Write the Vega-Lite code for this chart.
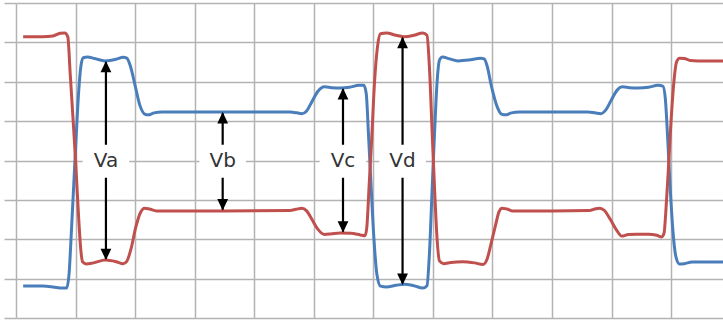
{
  "$schema": "https://vega.github.io/schema/vega-lite/v6.json",
  "width": 707,
  "height": 315,
  "autosize": {"type": "none"},
  "padding": {"left": 16, "top": 3, "right": 0, "bottom": 2},
  "background": "white",
  "config": {
    "view": {"stroke": null},
    "axis": {"grid": true, "gridColor": "#b3b3b3", "gridWidth": 1.5, "labels": false, "domain": false, "title": null},
    "axisX": {"ticks": false},
    "axisY": {"ticks": true, "tickSize": 12, "tickColor": "#b3b3b3", "tickWidth": 1.5}
  },
  "datasets": {
    "waves": [
      {"s": "red", "t": 0.12, "v": 3.14}, {"s": "red", "t": 0.45, "v": 3.14}, {"s": "red", "t": 0.62, "v": 3.16}, {"s": "red", "t": 0.74, "v": 3.23}, {"s": "red", "t": 0.82, "v": 3.24}, {"s": "red", "t": 0.87, "v": 3.14}, {"s": "red", "t": 0.91, "v": 2.2}, {"s": "red", "t": 0.96, "v": 1.0}, {"s": "red", "t": 1.0, "v": 0.0}, {"s": "red", "t": 1.05, "v": -1.4}, {"s": "red", "t": 1.09, "v": -2.3}, {"s": "red", "t": 1.12, "v": -2.58}, {"s": "red", "t": 1.18, "v": -2.63}, {"s": "red", "t": 1.3, "v": -2.6}, {"s": "red", "t": 1.5, "v": -2.53}, {"s": "red", "t": 1.68, "v": -2.57}, {"s": "red", "t": 1.8, "v": -2.62}, {"s": "red", "t": 1.86, "v": -2.56}, {"s": "red", "t": 1.93, "v": -2.25}, {"s": "red", "t": 2.01, "v": -1.7}, {"s": "red", "t": 2.09, "v": -1.32}, {"s": "red", "t": 2.16, "v": -1.21}, {"s": "red", "t": 2.24, "v": -1.23}, {"s": "red", "t": 2.36, "v": -1.28}, {"s": "red", "t": 3.5, "v": -1.28}, {"s": "red", "t": 4.6, "v": -1.27}, {"s": "red", "t": 4.7, "v": -1.24}, {"s": "red", "t": 4.8, "v": -1.21}, {"s": "red", "t": 4.88, "v": -1.28}, {"s": "red", "t": 4.97, "v": -1.5}, {"s": "red", "t": 5.07, "v": -1.75}, {"s": "red", "t": 5.18, "v": -1.88}, {"s": "red", "t": 5.3, "v": -1.86}, {"s": "red", "t": 5.44, "v": -1.84}, {"s": "red", "t": 5.62, "v": -1.85}, {"s": "red", "t": 5.78, "v": -1.89}, {"s": "red", "t": 5.86, "v": -1.91}, {"s": "red", "t": 5.89, "v": -1.7}, {"s": "red", "t": 5.93, "v": -0.6}, {"s": "red", "t": 5.97, "v": 0.5}, {"s": "red", "t": 6.02, "v": 2.0}, {"s": "red", "t": 6.07, "v": 2.9}, {"s": "red", "t": 6.12, "v": 3.22}, {"s": "red", "t": 6.22, "v": 3.24}, {"s": "red", "t": 6.38, "v": 3.18}, {"s": "red", "t": 6.53, "v": 3.14}, {"s": "red", "t": 6.68, "v": 3.18}, {"s": "red", "t": 6.83, "v": 3.24}, {"s": "red", "t": 6.9, "v": 3.18}, {"s": "red", "t": 6.94, "v": 2.4}, {"s": "red", "t": 6.99, "v": 0.6}, {"s": "red", "t": 7.03, "v": -0.8}, {"s": "red", "t": 7.07, "v": -2.0}, {"s": "red", "t": 7.11, "v": -2.55}, {"s": "red", "t": 7.18, "v": -2.62}, {"s": "red", "t": 7.3, "v": -2.59}, {"s": "red", "t": 7.5, "v": -2.57}, {"s": "red", "t": 7.7, "v": -2.6}, {"s": "red", "t": 7.84, "v": -2.64}, {"s": "red", "t": 7.91, "v": -2.5}, {"s": "red", "t": 7.97, "v": -2.15}, {"s": "red", "t": 8.05, "v": -1.65}, {"s": "red", "t": 8.11, "v": -1.3}, {"s": "red", "t": 8.16, "v": -1.21}, {"s": "red", "t": 8.24, "v": -1.23}, {"s": "red", "t": 8.34, "v": -1.28}, {"s": "red", "t": 9.0, "v": -1.28}, {"s": "red", "t": 9.63, "v": -1.27}, {"s": "red", "t": 9.72, "v": -1.23}, {"s": "red", "t": 9.8, "v": -1.21}, {"s": "red", "t": 9.88, "v": -1.27}, {"s": "red", "t": 9.98, "v": -1.5}, {"s": "red", "t": 10.08, "v": -1.76}, {"s": "red", "t": 10.17, "v": -1.92}, {"s": "red", "t": 10.28, "v": -1.88}, {"s": "red", "t": 10.42, "v": -1.87}, {"s": "red", "t": 10.62, "v": -1.87}, {"s": "red", "t": 10.76, "v": -1.9}, {"s": "red", "t": 10.84, "v": -1.94}, {"s": "red", "t": 10.88, "v": -1.85}, {"s": "red", "t": 10.91, "v": -1.3}, {"s": "red", "t": 10.95, "v": -0.3}, {"s": "red", "t": 10.99, "v": 0.8}, {"s": "red", "t": 11.04, "v": 1.9}, {"s": "red", "t": 11.09, "v": 2.5}, {"s": "red", "t": 11.14, "v": 2.6}, {"s": "red", "t": 11.22, "v": 2.59}, {"s": "red", "t": 11.32, "v": 2.54}, {"s": "red", "t": 11.45, "v": 2.53}, {"s": "red", "t": 11.87, "v": 2.53},
      {"s": "blue", "t": 0.12, "v": -3.19}, {"s": "blue", "t": 0.45, "v": -3.19}, {"s": "blue", "t": 0.62, "v": -3.21}, {"s": "blue", "t": 0.78, "v": -3.24}, {"s": "blue", "t": 0.85, "v": -3.24}, {"s": "blue", "t": 0.89, "v": -2.9}, {"s": "blue", "t": 0.93, "v": -1.8}, {"s": "blue", "t": 0.97, "v": -0.6}, {"s": "blue", "t": 1.01, "v": 0.6}, {"s": "blue", "t": 1.05, "v": 1.7}, {"s": "blue", "t": 1.09, "v": 2.4}, {"s": "blue", "t": 1.13, "v": 2.61}, {"s": "blue", "t": 1.2, "v": 2.63}, {"s": "blue", "t": 1.32, "v": 2.59}, {"s": "blue", "t": 1.5, "v": 2.53}, {"s": "blue", "t": 1.68, "v": 2.57}, {"s": "blue", "t": 1.8, "v": 2.62}, {"s": "blue", "t": 1.86, "v": 2.6}, {"s": "blue", "t": 1.92, "v": 2.4}, {"s": "blue", "t": 2.0, "v": 1.9}, {"s": "blue", "t": 2.08, "v": 1.4}, {"s": "blue", "t": 2.16, "v": 1.18}, {"s": "blue", "t": 2.22, "v": 1.16}, {"s": "blue", "t": 2.32, "v": 1.21}, {"s": "blue", "t": 2.45, "v": 1.23}, {"s": "blue", "t": 3.5, "v": 1.23}, {"s": "blue", "t": 4.6, "v": 1.23}, {"s": "blue", "t": 4.72, "v": 1.21}, {"s": "blue", "t": 4.8, "v": 1.19}, {"s": "blue", "t": 4.88, "v": 1.26}, {"s": "blue", "t": 4.97, "v": 1.5}, {"s": "blue", "t": 5.07, "v": 1.76}, {"s": "blue", "t": 5.18, "v": 1.87}, {"s": "blue", "t": 5.3, "v": 1.85}, {"s": "blue", "t": 5.44, "v": 1.84}, {"s": "blue", "t": 5.6, "v": 1.86}, {"s": "blue", "t": 5.76, "v": 1.91}, {"s": "blue", "t": 5.84, "v": 1.91}, {"s": "blue", "t": 5.88, "v": 1.7}, {"s": "blue", "t": 5.92, "v": 0.6}, {"s": "blue", "t": 5.96, "v": -0.6}, {"s": "blue", "t": 6.01, "v": -2.0}, {"s": "blue", "t": 6.06, "v": -2.9}, {"s": "blue", "t": 6.12, "v": -3.19}, {"s": "blue", "t": 6.22, "v": -3.21}, {"s": "blue", "t": 6.38, "v": -3.17}, {"s": "blue", "t": 6.53, "v": -3.14}, {"s": "blue", "t": 6.68, "v": -3.18}, {"s": "blue", "t": 6.83, "v": -3.24}, {"s": "blue", "t": 6.9, "v": -3.18}, {"s": "blue", "t": 6.94, "v": -2.4}, {"s": "blue", "t": 6.99, "v": -0.6}, {"s": "blue", "t": 7.03, "v": 0.8}, {"s": "blue", "t": 7.07, "v": 2.0}, {"s": "blue", "t": 7.11, "v": 2.55}, {"s": "blue", "t": 7.16, "v": 2.63}, {"s": "blue", "t": 7.28, "v": 2.58}, {"s": "blue", "t": 7.42, "v": 2.53}, {"s": "blue", "t": 7.6, "v": 2.55}, {"s": "blue", "t": 7.8, "v": 2.6}, {"s": "blue", "t": 7.86, "v": 2.58}, {"s": "blue", "t": 7.91, "v": 2.4}, {"s": "blue", "t": 7.98, "v": 1.9}, {"s": "blue", "t": 8.07, "v": 1.4}, {"s": "blue", "t": 8.15, "v": 1.18}, {"s": "blue", "t": 8.22, "v": 1.16}, {"s": "blue", "t": 8.32, "v": 1.21}, {"s": "blue", "t": 8.45, "v": 1.23}, {"s": "blue", "t": 9.0, "v": 1.23}, {"s": "blue", "t": 9.6, "v": 1.23}, {"s": "blue", "t": 9.72, "v": 1.21}, {"s": "blue", "t": 9.82, "v": 1.19}, {"s": "blue", "t": 9.9, "v": 1.28}, {"s": "blue", "t": 10.0, "v": 1.55}, {"s": "blue", "t": 10.1, "v": 1.8}, {"s": "blue", "t": 10.18, "v": 1.87}, {"s": "blue", "t": 10.3, "v": 1.85}, {"s": "blue", "t": 10.45, "v": 1.84}, {"s": "blue", "t": 10.62, "v": 1.86}, {"s": "blue", "t": 10.78, "v": 1.91}, {"s": "blue", "t": 10.86, "v": 1.89}, {"s": "blue", "t": 10.9, "v": 1.6}, {"s": "blue", "t": 10.94, "v": 0.6}, {"s": "blue", "t": 10.98, "v": -0.6}, {"s": "blue", "t": 11.03, "v": -1.8}, {"s": "blue", "t": 11.08, "v": -2.45}, {"s": "blue", "t": 11.14, "v": -2.63}, {"s": "blue", "t": 11.22, "v": -2.62}, {"s": "blue", "t": 11.35, "v": -2.58}, {"s": "blue", "t": 11.87, "v": -2.58}
    ],
    "arrows": [
      {"label": "Va", "t": 1.51, "top": 2.53, "bot": -2.53, "mid": -0.02},
      {"label": "Vb", "t": 3.47, "top": 1.23, "bot": -1.27, "mid": -0.02},
      {"label": "Vc", "t": 5.49, "top": 1.84, "bot": -1.83, "mid": -0.02},
      {"label": "Vd", "t": 6.49, "top": 3.14, "bot": -3.16, "mid": -0.02}
    ]
  },
  "layer": [
    {
      "data": {"name": "arrows"},
      "mark": {"type": "rule", "color": "black", "strokeWidth": 2.2},
      "encoding": {
        "x": {"field": "t", "type": "quantitative", "scale": {"domain": [0, 11.87], "nice": false, "zero": false},
              "axis": {"values": [0,1,2,3,4,5,6,7,8,9,10,11]}},
        "y": {"field": "top", "type": "quantitative", "scale": {"domain": [-4, 4], "nice": false, "zero": false},
              "axis": {"values": [-4,-3,-2,-1,0,1,2,3,4]}},
        "y2": {"field": "bot"}
      }
    },
    {
      "data": {"name": "arrows"},
      "mark": {"type": "point", "shape": "M-1.55,-1.1H1.55V1.1H-1.55Z", "size": 900, "filled": true, "fill": "white", "opacity": 1, "strokeWidth": 0},
      "encoding": {
        "x": {"field": "t", "type": "quantitative", "axis": {"values": [0,1,2,3,4,5,6,7,8,9,10,11]}},
        "y": {"field": "mid", "type": "quantitative", "axis": {"values": [-4,-3,-2,-1,0,1,2,3,4]}}
      }
    },
    {
      "data": {"name": "waves"},
      "transform": [{"filter": "datum.s === 'blue'"}],
      "mark": {"type": "line", "color": "#4a7ebb", "strokeWidth": 3, "interpolate": "monotone"},
      "encoding": {
        "x": {"field": "t", "type": "quantitative", "axis": {"values": [0,1,2,3,4,5,6,7,8,9,10,11]}},
        "y": {"field": "v", "type": "quantitative", "axis": {"values": [-4,-3,-2,-1,0,1,2,3,4]}}
      }
    },
    {
      "data": {"name": "waves"},
      "transform": [{"filter": "datum.s === 'red'"}],
      "mark": {"type": "line", "color": "#c0504d", "strokeWidth": 3, "interpolate": "monotone"},
      "encoding": {
        "x": {"field": "t", "type": "quantitative", "axis": {"values": [0,1,2,3,4,5,6,7,8,9,10,11]}},
        "y": {"field": "v", "type": "quantitative", "axis": {"values": [-4,-3,-2,-1,0,1,2,3,4]}}
      }
    },
    {
      "data": {"name": "arrows"},
      "mark": {"type": "point", "shape": "M0,0L-0.9,1.9L0.9,1.9Z", "size": 144, "filled": true, "color": "black", "opacity": 1, "strokeWidth": 0},
      "encoding": {
        "x": {"field": "t", "type": "quantitative", "axis": {"values": [0,1,2,3,4,5,6,7,8,9,10,11]}},
        "y": {"field": "top", "type": "quantitative", "axis": {"values": [-4,-3,-2,-1,0,1,2,3,4]}}
      }
    },
    {
      "data": {"name": "arrows"},
      "mark": {"type": "point", "shape": "M0,0L-0.9,-1.9L0.9,-1.9Z", "size": 144, "filled": true, "color": "black", "opacity": 1, "strokeWidth": 0},
      "encoding": {
        "x": {"field": "t", "type": "quantitative", "axis": {"values": [0,1,2,3,4,5,6,7,8,9,10,11]}},
        "y": {"field": "bot", "type": "quantitative", "axis": {"values": [-4,-3,-2,-1,0,1,2,3,4]}}
      }
    },
    {
      "data": {"name": "arrows"},
      "mark": {"type": "text", "font": "DejaVu Sans", "fontSize": 20, "color": "#333333", "align": "center", "baseline": "middle"},
      "encoding": {
        "x": {"field": "t", "type": "quantitative", "axis": {"values": [0,1,2,3,4,5,6,7,8,9,10,11]}},
        "y": {"field": "mid", "type": "quantitative", "axis": {"values": [-4,-3,-2,-1,0,1,2,3,4]}},
        "text": {"field": "label"}
      }
    }
  ]
}
